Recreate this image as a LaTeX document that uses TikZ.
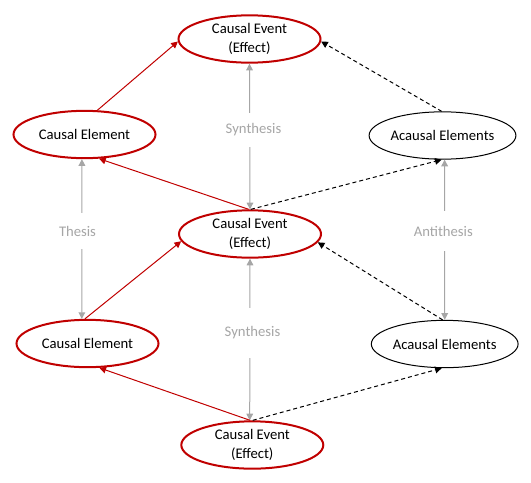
\documentclass[tikz,border=0pt]{standalone}
\usepackage{fontspec}
\setmainfont{Carlito}
\usetikzlibrary{shapes.geometric,arrows.meta}
\definecolor{dred}{RGB}{192,0,0}
\definecolor{lgray}{RGB}{166,166,166}
\begin{document}
\begin{tikzpicture}[x=0.75pt,y=-0.75pt,
  font=\fontsize{11}{13.8}\selectfont,
  ev/.style={ellipse, draw=dred, line width=1.5pt, minimum width=106.5pt, minimum height=35.5pt, inner sep=0pt, align=center},
  el/.style={ellipse, draw=black, line width=0.75pt, minimum width=106.5pt, minimum height=35.5pt, inner sep=0pt, align=center},
  redarr/.style={draw=dred, line width=0.75pt, -{Triangle[length=5pt,width=5pt]}},
  dasharr/.style={draw=black, line width=0.75pt, dash pattern=on 3pt off 2.25pt, -{Triangle[length=5pt,width=5pt]}},
  grayarr/.style={draw=lgray, line width=0.75pt, {Triangle[length=5pt,width=5pt]}-{Triangle[length=5pt,width=5pt]}},
  lbl/.style={fill=white, text=lgray, inner xsep=1pt, inner ysep=0pt}
]
\useasboundingbox (0,0) rectangle (531,482);

% ellipses
\node[ev] (E1) at (249.5,39) {Causal Event\\(Effect)};
\node[ev] (CE1) at (84.5,134.5) {Causal Element};
\node[el] (AE1) at (442.5,135.5) {Acausal Elements};
\node[ev] (E2) at (250,234) {Causal Event\\(Effect)};
\node[ev] (CE2) at (87.5,343.5) {Causal Element};
\node[el] (AE2) at (444.7,344) {Acausal Elements};
\node[ev] (E3) at (252.3,445) {Causal Event\\(Effect)};

% gray dialectic connectors
\draw[grayarr] (E1.270) -- (E2.90);
\draw[grayarr] (CE1.264) -- (CE2.103);
\draw[grayarr] (AE1.275) -- (AE2.90);
\draw[grayarr] (E2.270) -- (E3.96);

% red causal connectors
\draw[redarr] (CE1.62) -- (E1.182);
\draw[redarr] (E2.93) -- (CE1.301);
\draw[redarr] (CE2.96) -- (E2.186);
\draw[redarr] (E3.95) -- (CE2.296);

% dashed acausal connectors
\draw[dasharr] (E2.88) -- (AE1.268);
\draw[dasharr] (AE1.92) -- (E1.358);
\draw[dasharr] (E3.89) -- (AE2.263);
\draw[dasharr] (AE2.95) -- (E2.353);

% labels
\node[lbl, minimum height=26pt] (S1) at (253.5,130) {Synthesis};
\node[lbl, minimum height=27pt] (TH) at (77.5,231) {Thesis};
\node[lbl, minimum height=30pt] (AN) at (443.3,231) {Antithesis};
\node[lbl, minimum height=38pt] (S2) at (252.5,333) {Synthesis};
\end{tikzpicture}
\end{document}
